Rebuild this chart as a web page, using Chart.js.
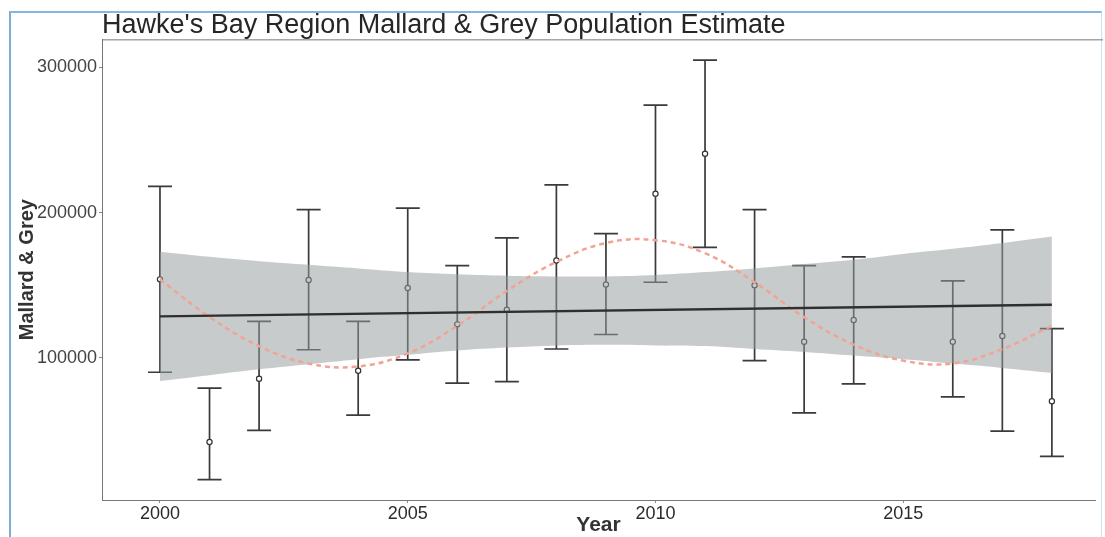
<!DOCTYPE html>
<html>
<head>
<meta charset="utf-8">
<script src="https://cdn.jsdelivr.net/npm/chart.js@4.4.1/dist/chart.umd.min.js"></script>
<style>
  html, body { margin: 0; padding: 0; background: #fff; }
  #wrap { position: relative; width: 1105px; height: 537px; overflow: hidden; }
  #frame { position: absolute; left: 9px; top: 11px; width: 1090px; height: 540px;
           border-left: 2px solid #7aaed8; border-top: 2px solid #86b6dc; border-right: 1px solid #cfe0ee; }
  canvas { position: absolute; left: 0; top: 0; }
</style>
</head>
<body>
<div id="wrap">
  <div id="frame"></div>
  <canvas id="chart" width="1105" height="537"></canvas>
</div>
<script>
// survey years (no count in 2015)
const years    = [2000, 2001, 2002, 2003, 2004, 2005, 2006, 2007, 2008, 2009, 2010, 2011, 2012, 2013, 2014, 2016, 2017, 2018];
const estimate = [154000, 42000, 85500, 153500, 91000, 148000, 123000, 133000, 167000, 150500, 213000, 240500, 150000, 111000, 126000, 111000, 115000, 70000];
const upper    = [218000, 79000, 125000, 202000, 125000, 203000, 163500, 182500, 219000, 185500, 274000, 305000, 202000, 163500, 169500, 153000, 188000, 120000];
const lower    = [90000, 16000, 50000, 105500, 60500, 98500, 82500, 83500, 106000, 116000, 152000, 176000, 98000, 62000, 82000, 73000, 49500, 32000];

// linear trend and its confidence band
const trendYears = [2000, 2018];
const trend      = [128500, 136500];
const fitYears   = [2000, 2001, 2002, 2003, 2004, 2005, 2006, 2007, 2008, 2009, 2010, 2011, 2012, 2013, 2014, 2015, 2016, 2017, 2018];
const bandUpper  = [173000, 169500, 166500, 164000, 161500, 159000, 157500, 156500, 156000, 156000, 157000, 159000, 161500, 164500, 167500, 171500, 175000, 179000, 183500];
const bandLower  = [84000, 88000, 92000, 95500, 99000, 102000, 105000, 107000, 108500, 109000, 108500, 108000, 106000, 104000, 101500, 99000, 96000, 93000, 89500];

// smoothed (dashed) curve
const smooth = [154000, 128000, 108000, 96000, 94000, 103000, 122000, 146000, 166000, 179000, 181000, 172000, 152000, 128000, 109000, 98000, 96000, 106000, 122000];

const xTicks = [2000, 2005, 2010, 2015];
const yTicks = [100000, 200000, 300000];

const FONT = "'Liberation Sans', Arial, sans-serif";
const pts = (xs, ys) => xs.map((x, i) => ({ x, y: ys[i] }));

const errorBars = {
  id: "errorBars",
  beforeDatasetsDraw(chart) {
    const { ctx, scales: { x, y } } = chart;
    ctx.save();
    ctx.strokeStyle = "#3a3a3a";
    ctx.lineWidth = 1.7;
    years.forEach((yr, i) => {
      const px = x.getPixelForValue(yr);
      const top = y.getPixelForValue(upper[i]);
      const bot = y.getPixelForValue(lower[i]);
      ctx.beginPath();
      ctx.moveTo(px, top); ctx.lineTo(px, bot);
      ctx.moveTo(px - 12, top); ctx.lineTo(px + 12, top);
      ctx.moveTo(px - 12, bot); ctx.lineTo(px + 12, bot);
      ctx.stroke();
    });
    ctx.restore();
  },
};

const topRule = {
  id: "topRule",
  afterDraw(chart) {
    const { ctx, chartArea: a } = chart;
    ctx.save();
    ctx.strokeStyle = "#777";
    ctx.lineWidth = 1;
    ctx.beginPath();
    ctx.moveTo(a.left, a.top + 0.5);
    ctx.lineTo(a.right + 8, a.top + 0.5);
    ctx.stroke();
    ctx.restore();
  },
};

new Chart(document.getElementById("chart"), {
  type: "line",
  data: {
    datasets: [
      {
        data: pts(trendYears, trend),
        borderColor: "#2f2f2f", borderWidth: 2.3, pointRadius: 0, order: 1,
      },
      {
        data: pts(fitYears, smooth),
        borderColor: "#f2a394", borderWidth: 2.5, borderDash: [5, 4],
        pointRadius: 0, tension: 0.4, order: 2,
      },
      {
        data: pts(fitYears, bandLower),
        borderWidth: 0, borderColor: "rgba(0,0,0,0)", pointRadius: 0, tension: 0.4, fill: false, order: 5,
      },
      {
        data: pts(fitYears, bandUpper),
        borderWidth: 0, borderColor: "rgba(0,0,0,0)", pointRadius: 0, tension: 0.4,
        fill: 2, backgroundColor: "rgba(150,157,157,0.53)", order: 5,
      },
      {
        data: pts(years, estimate),
        showLine: false, pointRadius: 2.6, pointBackgroundColor: "#fff",
        pointBorderColor: "#333", pointBorderWidth: 1.2, order: 10,
      },
    ],
  },
  options: {
    responsive: false,
    animation: false,
    layout: { padding: { left: 0, right: 10, top: 0, bottom: 0 } },
    plugins: {
      legend: { display: false },
      tooltip: { enabled: false },
      title: {
        display: true,
        text: "Hawke's Bay Region Mallard & Grey Population Estimate",
        align: "start", fullSize: false, color: "#262626",
        font: { family: FONT, size: 27, weight: "normal", lineHeight: 1.05 },
        padding: { top: 11, bottom: 0 },
      },
    },
    scales: {
      x: {
        type: "linear", min: 1998.83, max: 2018.87,
        afterBuildTicks: s => { s.ticks = xTicks.map(v => ({ value: v })); },
        afterFit: s => { s.height = 37; },
        ticks: { color: "#2b2b2b", padding: 0, font: { family: FONT, size: 18 }, callback: v => String(v) },
        grid: { drawOnChartArea: false, tickLength: 3, color: "#888" },
        border: { color: "#777", width: 1 },
        title: { display: true, text: "Year", color: "#333", padding: { top: 0, bottom: 1 },
                 font: { family: FONT, size: 21, weight: "bold", lineHeight: 1 } },
      },
      y: {
        min: 2000, max: 319300,
        afterBuildTicks: s => { s.ticks = yTicks.map(v => ({ value: v })); },
        afterFit: s => { s.width = 102; },
        ticks: { color: "#444", padding: 2, font: { family: FONT, size: 18 }, callback: v => String(v) },
        grid: { drawOnChartArea: false, tickLength: 3, color: "#888" },
        border: { color: "#777", width: 1 },
        title: { display: true, text: "Mallard & Grey", color: "#333", padding: { top: 15, bottom: 0 },
                 font: { family: FONT, size: 20, weight: "bold", lineHeight: 1.2 } },
      },
    },
  },
  plugins: [errorBars, topRule],
});
</script>
</body>
</html>
